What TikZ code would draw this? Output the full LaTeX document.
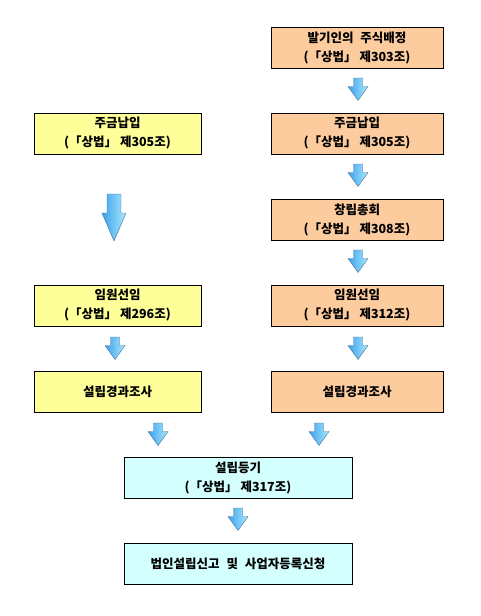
\documentclass[tikz,border=0pt]{standalone}
\usepackage{fontspec}
\newfontfamily\krfont{Noto Sans CJK KR}
\usepackage{tikz}
\definecolor{boxorange}{RGB}{252,204,158}
\definecolor{boxyellow}{RGB}{255,255,153}
\definecolor{boxcyan}{RGB}{212,255,255}
\definecolor{arrowblue}{RGB}{60,160,235}
\definecolor{arrowcyan}{RGB}{170,235,255}
\definecolor{arrowline}{RGB}{70,110,150}
\newcommand{\wordgap}{\hspace{0.55em}}
\tikzset{
  stepbox/.style={rectangle, draw=black, line width=0.8pt, minimum height=41pt, align=center, inner sep=0pt, font=\krfont\bfseries\fontsize{12.5}{19}\selectfont},
  rightbox/.style={stepbox, fill=boxorange, minimum width=172pt},
  leftbox/.style={stepbox, fill=boxyellow, minimum width=167pt},
  bottombox/.style={stepbox, fill=boxcyan, minimum width=228pt},
  arrowshade/.style={left color=arrowblue, right color=arrowcyan, draw=arrowline, line width=0.4pt},
  pics/downarrow/.style n args={4}{code={
    \shade[arrowshade] (-#1,0) -- (#1,0) -- (#1,#3) -- (#2,#3) -- (0,#4) -- (-#2,#3) -- (-#1,#3) -- cycle;
  }}
}

\begin{document}
\begin{tikzpicture}[x=1pt, y=-1pt]
\useasboundingbox (0,0) rectangle (481,616);

% Right column: founders take all shares
\node[rightbox] (rshares) at (357,47.5) {발기인의\wordgap 주식배정\\(「상법」 제303조)};
\node[rightbox] (rpay) at (357,133.5) {주금납입\\(「상법」 제305조)};
\node[rightbox] (rmeeting) at (357,219.5) {창립총회\\(「상법」 제308조)};
\node[rightbox] (rofficers) at (357,305.5) {임원선임\\(「상법」 제312조)};
\node[rightbox] (rcheck) at (357,391.5) {설립경과조사};

\pic (ar1) at (358,78) {downarrow={4.5}{10}{8.5}{22.5}};
\pic (ar2) at (358,164) {downarrow={4.5}{10}{8.5}{22.5}};
\pic (ar3) at (358,250) {downarrow={4.5}{10}{8.5}{22.5}};
\pic (ar4) at (358,337) {downarrow={4.5}{10}{8.5}{22.5}};

% Left column
\node[leftbox] (lpay) at (117.5,133.5) {주금납입\\(「상법」 제305조)};
\node[leftbox] (lofficers) at (117.5,305.5) {임원선임\\(「상법」 제296조)};
\node[leftbox] (lcheck) at (117.5,391.5) {설립경과조사};

\pic (al1) at (114,194) {downarrow={7}{12}{19}{47}};
\pic (al2) at (115,337) {downarrow={4.5}{10}{8.5}{22.5}};

% Bottom: registration
\pic (ab1) at (158,423) {downarrow={4.5}{10}{8.5}{22.5}};
\pic (ab2) at (319,423) {downarrow={4.5}{10}{8.5}{22.5}};

\node[bottombox] (reg) at (238,477.5) {설립등기\\(「상법」 제317조)};
\pic (ab3) at (238,508) {downarrow={4.5}{10}{8.5}{22.5}};
\node[bottombox] (report) at (238,563.5) {법인설립신고\wordgap 및\wordgap 사업자등록신청};
\end{tikzpicture}
\end{document}
